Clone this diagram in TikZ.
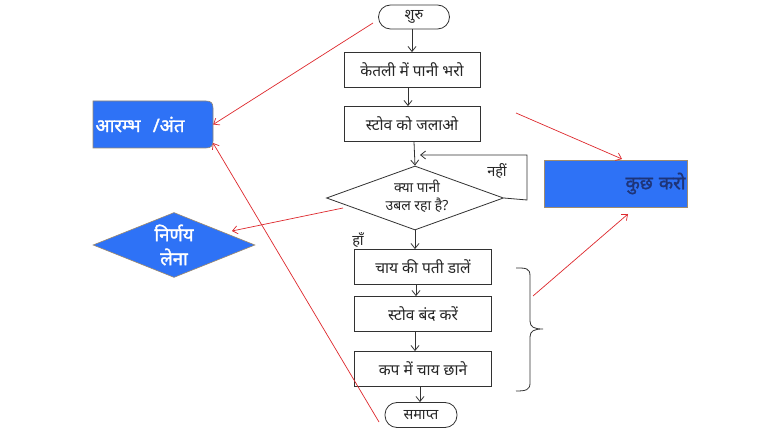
\documentclass[tikz,border=0pt]{standalone}
\usepackage{fontspec}
\newfontfamily\dev[Script=Devanagari]{Noto Sans}
\newfontfamily\devb[Script=Devanagari,FakeBold=1.6]{Noto Sans}
\usetikzlibrary{shapes.geometric,arrows.meta}
\definecolor{bblue}{RGB}{46,114,246}
\definecolor{navy}{RGB}{30,52,120}
\definecolor{rline}{RGB}{222,40,45}
\definecolor{bedge}{RGB}{160,140,110}
\definecolor{lgray}{RGB}{50,50,50}
\begin{document}
\begin{tikzpicture}[x=1pt,y=-1pt,
  base/.style={font=\dev\fontsize{13.5}{17}\selectfont, text=black!85, inner sep=0pt},
  term/.style={base, font=\dev\fontsize{14.5}{17}\selectfont, draw=lgray, line width=0.8pt, rounded corners=12pt, minimum height=24pt},
  proc/.style={base, font=\dev\fontsize{15.5}{18}\selectfont, draw=lgray, line width=0.8pt, minimum width=136pt, minimum height=35pt},
  dec/.style={draw=lgray, line width=0.8pt, diamond, minimum width=177pt, minimum height=64pt, inner sep=0pt},
  arr/.style={draw=lgray, line width=0.8pt, -{Straight Barb[length=5pt,width=8pt]}},
  redarr/.style={draw=rline, line width=0.7pt, -{Straight Barb[length=5pt,width=8pt]}},
  lbl/.style={base, font=\dev\fontsize{14.5}{17}\selectfont},
  bluelbl/.style={font=\devb\fontsize{18.5}{24}\selectfont, inner sep=0pt}
]
\useasboundingbox (0,0) rectangle (780,430);
\fill[white] (0,0) rectangle (780,430);

% main flow
\node[term, minimum width=71pt] (start) at (414,17) {शुरु};
\node[proc] (fill) at (412,70) {केतली में पानी भरो};
\node[proc] (stove) at (412,124) {स्टोव को जलाओ};
\node[dec] (boil) at (415,198) {};
\node[base, align=center, font=\dev\fontsize{14}{18}\selectfont] (boilt) at (417,196) {क्या पानी\\उबल रहा है?};
\node[proc, minimum width=137pt] (tea) at (423,267) {चाय की पती डालें};
\node[proc, minimum width=137pt] (off) at (423,314) {स्टोव बंद करें};
\node[proc, minimum width=137pt] (cup) at (423,369) {कप में चाय छाने};
\node[term, minimum width=72pt, minimum height=25pt] (end) at (421,415) {समाप्त};

\draw[arr] ([xshift=-2pt]start.south) -- ([xshift=-2pt]start.south |- fill.north);
\draw[arr] ([xshift=-4pt]fill.south) -- ([xshift=-4pt]fill.south |- stove.north);
\draw[arr] ([xshift=2pt]stove.south) -- (boil.north);
\draw[arr] (boil.south) -- (boil.south |- tea.north);
\draw[arr] ([xshift=-7pt]tea.south) -- ([xshift=-7pt]tea.south |- off.north);
\draw[arr] ([xshift=-8pt]off.south) -- ([xshift=-8pt]off.south |- cup.north);
\draw[arr] ([xshift=-3pt]cup.south) -- ([xshift=-3pt]cup.south |- end.north);

% loop back
\coordinate (lp1) at (527,200);
\coordinate (lp2) at (527,155);
\coordinate (lp3) at (420,155);
\draw[arr] (boil.east) -- (lp1) -- (lp2) -- (lp3);
\node[lbl] (no) at (497,171) {नहीं};
\node[lbl] (yes) at (358,240) {हाँ};

% brace
\draw[lgray, line width=0.8pt] (516,268) .. controls (526,268) and (530,268) .. (530,276) -- (530,321)
  .. controls (530,327) and (534,329) .. (543,329)
  .. controls (534,329) and (530,331) .. (530,337) -- (530,383)
  .. controls (530,390) and (526,391) .. (516,391);

% blue shapes
\draw[draw=bedge!70!gray, line width=0.6pt, fill=bblue] (93,101) -- (206,101) .. controls (211,101) and (213,103) .. (213,108)
  -- (213,141) .. controls (213,146) and (211,148) .. (206,148) -- (93,148) -- cycle;
\node[bluelbl, text=white, minimum width=120pt, minimum height=47pt, text width=115pt, align=left] (ra) at (153,124.5) {आरम्भ ~/अंत};

\node[diamond, fill=bblue, draw=bedge, line width=0.6pt, minimum width=162pt, minimum height=65pt, inner sep=0pt] (nl) at (174,245) {};
\node[bluelbl, text=white, align=center] (nlt) at (174,245) {निर्णय\\लेना};

\node[rectangle, fill=bblue, draw=bedge, line width=0.6pt, minimum width=143pt, minimum height=47pt, inner sep=0pt,
  bluelbl, text=navy, text width=140pt, align=right] (kk) at (615.5,183.5) {कुछ करो};

% red arrows
\coordinate (r1) at (373,23);
\coordinate (r2) at (379,422);
\coordinate (r3) at (343,208);
\coordinate (r3e) at (232,231);
\coordinate (r4) at (516,113);
\coordinate (r4e) at (622,159);
\coordinate (r5) at (533,296);
\coordinate (r5e) at (628,214);
\coordinate (r2e) at (213,143);
\draw[redarr] (r1) -- (ra.east);
\draw[redarr] (r2) -- (r2e);
\draw[redarr] (r3) -- (r3e);
\draw[redarr] (r4) -- (r4e);
\draw[redarr] (r5) -- (r5e);
\end{tikzpicture}
\end{document}
